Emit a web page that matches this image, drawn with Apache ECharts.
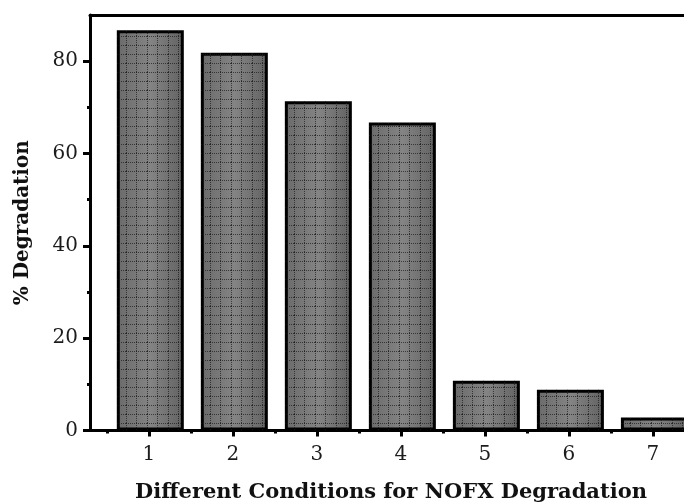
<!DOCTYPE html>
<html>
<head>
<meta charset="utf-8">
<script src="https://cdn.jsdelivr.net/npm/echarts@6/dist/echarts.min.js"></script>
<style>
  html, body { margin: 0; padding: 0; background: #fff; }
  #chart { width: 684px; height: 504px; }
</style>
</head>
<body>
<div id="chart"></div>
<script>
// Degradation (%) under each experimental condition
const conditions = [1, 2, 3, 4, 5, 6, 7];
const degradation = [86.7, 81.8, 71.3, 66.7, 10.8, 8.8, 2.8];

// Axis tick values
const yMajorTicks = [0, 20, 40, 60, 80];
const yMinorTicks = [10, 30, 50, 70];
const xMinorTicks = conditions.map(c => c - 0.5).concat([conditions[conditions.length - 1] + 0.5]);

const FONT = '"DejaVu Serif", "Liberation Serif", serif';
const INK = '#000';
const X_MIN = 0.3, X_MAX = 7.37;

// Dotted grid texture laid over the bars
function makeTexture() {
  const c = document.createElement('canvas');
  c.width = 21; c.height = 9;
  const ctx = c.getContext('2d');
  ctx.fillStyle = 'rgba(25,25,25,0.7)';
  for (let x = 0; x < c.width; x += 2) ctx.fillRect(x, 0, 1, 1);
  for (let y = 0; y < c.height; y += 2) { ctx.fillRect(0, y, 1, 1); ctx.fillRect(10, y, 1, 1); }
  return c;
}

const barPoints = conditions.map((c, i) => [c, degradation[i]]);

const chart = echarts.init(document.getElementById('chart'), null, { renderer: 'canvas' });

const hidden = { show: false };

chart.setOption({
  animation: false,
  backgroundColor: '#fff',
  grid: { left: 90, right: 0, top: 15, bottom: 73.5, containLabel: false },
  xAxis: [
    {
      type: 'value', min: X_MIN, max: X_MAX, position: 'bottom',
      axisLine: { show: true, lineStyle: { color: INK, width: 3 } },
      axisTick: { show: true, customValues: conditions, length: 6, inside: false, lineStyle: { color: INK, width: 3 } },
      axisLabel: { show: true, customValues: conditions, fontFamily: FONT, fontSize: 20, color: '#1c1c1c', margin: 14 },
      splitLine: hidden
    },
    {
      type: 'value', min: X_MIN, max: X_MAX, position: 'bottom',
      axisLine: hidden,
      axisTick: { show: true, customValues: xMinorTicks, length: 3, lineStyle: { color: INK, width: 3 } },
      axisLabel: hidden, splitLine: hidden
    },
    {
      type: 'value', min: X_MIN, max: X_MAX, position: 'top',
      axisLine: { show: true, lineStyle: { color: INK, width: 3 } },
      axisTick: hidden, axisLabel: hidden, splitLine: hidden
    }
  ],
  yAxis: [
    {
      type: 'value', min: 0, max: 90, position: 'left',
      name: '% Degradation', nameLocation: 'middle', nameGap: 57,
      nameTextStyle: { fontFamily: FONT, fontSize: 20, fontWeight: 'bold', color: '#111' },
      axisLine: { show: true, lineStyle: { color: INK, width: 3 } },
      axisTick: { show: true, customValues: yMajorTicks, length: 7, lineStyle: { color: INK, width: 3 } },
      axisLabel: { show: true, customValues: yMajorTicks, fontFamily: FONT, fontSize: 20, color: '#1c1c1c', margin: 12 },
      splitLine: hidden
    },
    {
      type: 'value', min: 0, max: 90, position: 'left',
      axisLine: hidden,
      axisTick: { show: true, customValues: yMinorTicks, length: 3, lineStyle: { color: INK, width: 3 } },
      axisLabel: hidden, splitLine: hidden
    }
  ],
  graphic: [
    {
      type: 'text', x: 391, y: 493,
      style: {
        text: 'Different Conditions for NOFX Degradation',
        fontFamily: FONT, fontSize: 21, fontWeight: 'bold', fill: '#111',
        textAlign: 'center', textVerticalAlign: 'middle'
      }
    }
  ],
  series: [
    {
      type: 'bar', xAxisIndex: 0, yAxisIndex: 0,
      data: barPoints, barWidth: 67, barGap: '-100%',
      itemStyle: {
        color: new echarts.graphic.LinearGradient(0, 0, 1, 0, [
          { offset: 0, color: '#6a6a6a' },
          { offset: 0.5, color: '#848484' },
          { offset: 1, color: '#626262' }
        ]),
        borderColor: INK, borderWidth: 3
      },
      z: 2
    },
    {
      type: 'bar', xAxisIndex: 0, yAxisIndex: 0,
      data: barPoints, barWidth: 64, barGap: '-100%',
      itemStyle: { color: { image: makeTexture(), repeat: 'repeat' }, borderWidth: 0 },
      silent: true,
      z: 3
    }
  ]
});
</script>
</body>
</html>
